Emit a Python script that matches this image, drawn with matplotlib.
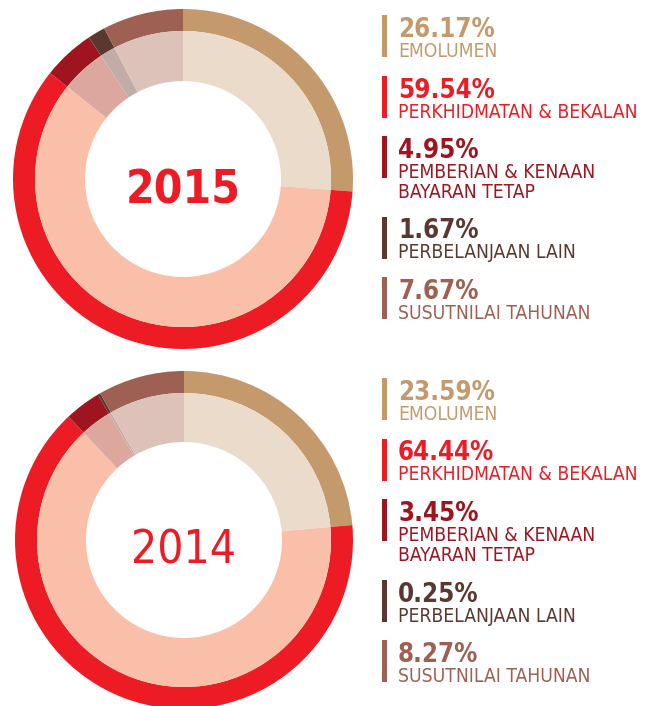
import matplotlib.pyplot as plt
from matplotlib import font_manager
from matplotlib.patches import Rectangle

# pick the narrowest sans family that is installed
installed = {f.name for f in font_manager.fontManager.ttflist}
narrow = [n for n in ['Noto Sans Condensed', 'Noto Sans SemiCondensed', 'Liberation Sans Narrow',
                      'DejaVu Sans Condensed'] if n in installed]
plt.rcParams['font.family'] = narrow[:1] + ['DejaVu Sans Condensed', 'DejaVu Sans']
plt.rcParams['font.stretch'] = 'condensed'

# data
categories = ['EMOLUMEN', 'PERKHIDMATAN & BEKALAN', 'PEMBERIAN & KENAAN\nBAYARAN TETAP',
              'PERBELANJAAN LAIN', 'SUSUTNILAI TAHUNAN']
years = ['2015', '2014']
share_2015 = [26.17, 59.54, 4.95, 1.67, 7.67]
share_2014 = [23.59, 64.44, 3.45, 0.25, 8.27]

outer_colors = ['#c49a6c', '#ed1c24', '#9e1520', '#5a3830', '#9e6052']
inner_colors = ['#eadbcb', '#f9bfa8', '#dca89e', '#c0ada7', '#ddc2b9']

W, H = 650, 706
fig = plt.figure(figsize=(6.5, 7.06), dpi=100)
ax = fig.add_axes([0, 0, 1, 1])

# layout per year: donut centre (pixel coords from top), radius, legend top, year weight
panels = [
    dict(year=years[0], vals=share_2015, cx=183, cy=179, r=170, top=15, weight='bold'),
    dict(year=years[1], vals=share_2014, cx=184, cy=540, r=169, top=378, weight='normal'),
]

for p in panels:
    centre = (p['cx'], H - p['cy'])
    # outer thin ring
    ax.pie(p['vals'], colors=outer_colors, radius=p['r'], center=centre,
           startangle=90, counterclock=False,
           wedgeprops=dict(width=22, linewidth=0))
    # inner wide ring
    ax.pie(p['vals'], colors=inner_colors, radius=p['r'] - 22, center=centre,
           startangle=90, counterclock=False,
           wedgeprops=dict(width=p['r'] - 22 - 98, linewidth=0))
    ax.text(p['cx'], H - p['cy'] - 24, p['year'], color='#ed1c24', fontsize=33,
            fontweight=p['weight'], ha='center', va='baseline')

    # legend
    top = p['top']
    for val, cat, col in zip(p['vals'], categories, outer_colors):
        ax.add_patch(Rectangle((382, H - (top + 42)), 5, 42, color=col, lw=0))
        ax.text(398, H - (top + 22), f'{val:.2f}%', color=col, fontsize=18.5,
                fontweight='bold', ha='left', va='baseline')
        lines = cat.split('\n')
        for i, line in enumerate(lines):
            ax.text(398, H - (top + 42 + 20 * i), line, color=col, fontsize=13.8,
                    ha='left', va='baseline')
        top += 60.5 + 20 * (len(lines) - 1)

ax.set_xlim(0, W)
ax.set_ylim(0, H)
ax.set_aspect('equal')
ax.axis('off')

fig.savefig('out.png', dpi=100)
